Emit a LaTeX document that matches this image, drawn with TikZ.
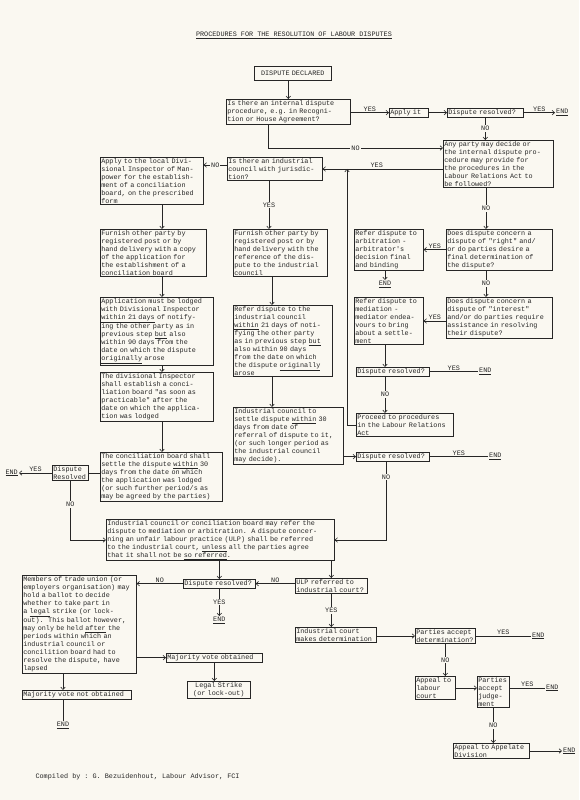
\documentclass[tikz,border=0pt]{standalone}
\usepackage{fontspec}
\usepackage{xcolor}
\usepackage{tikz}
\usetikzlibrary{arrows.meta, positioning, calc}

\newfontfamily\typewriter{Liberation Mono}
\newcommand{\flowfont}{\typewriter\fontsize{6.8}{8.0}\selectfont\frenchspacing\hyphenpenalty=10000\exhyphenpenalty=10000}
\definecolor{paper}{RGB}{250,248,241}
\definecolor{ink}{RGB}{38,38,38}

\begin{document}
\begin{tikzpicture}[
        x=1pt, y=-1pt,
        every node/.style={font=\flowfont, text=ink},
        box/.style={rectangle, draw=ink, line width=0.6pt, anchor=north west, align=left, inner xsep=1pt, inner ysep=1.2pt},
        arrow/.style={draw=ink, line width=0.6pt, -{Straight Barb[length=2.5pt, width=4.5pt]}},
        link/.style={draw=ink, line width=0.6pt},
        lbl/.style={inner sep=1pt},
        onl/.style={fill=paper, inner sep=1pt},
        endmark/.style={inner sep=1pt}
    ]
    \useasboundingbox[fill=paper] (0,0) rectangle (579,800);

    \node (title) at (294,35) {\underline{PROCEDURES FOR THE RESOLUTION OF LABOUR DISPUTES}};

    % top row
    \node[box, text width=75pt, align=center, minimum height=14pt] (declared) at (254,66) {DISPUTE DECLARED};
    \node[box, text width=122pt] (internal) at (226,99) {Is there an internal dispute\\procedure, e.g. in Recogni-\\tion or House Agreement?};
    \node[box, text width=37pt] (applyit) at (389,108) {Apply it};
    \node[box, text width=74pt] (resolvedA) at (447,108) {Dispute resolved?};
    \node[box, text width=108pt] (anyparty) at (443,140) {Any party may decide or\\the internal dispute pro-\\cedure may provide for\\the procedures in the\\Labour Relations Act to\\be followed?};

    % conciliation board column
    \node[box, text width=101pt] (applylocal) at (100,157) {Apply to the local Divi-\\sional Inspector of Man-\\power for the establish-\\ment of a conciliation\\board, on the prescribed\\form};
    \node[box, text width=104pt] (furnishA) at (100,229) {Furnish other party by\\registered post or by\\hand delivery with a copy\\of the application for\\the establishment of a\\conciliation board};
    \node[box, text width=111pt] (lodged) at (100,297) {Application must be lodged\\with Divisional Inspector\\\underline{within 21 days} of notify-\\ing the other party as in\\previous step \underline{but} also\\within 90 days from the\\date on which the dispute\\\underline{originally} arose};
    \node[box, text width=111pt] (inspector) at (100,372) {The divisional Inspector\\shall establish a conci-\\liation board "as soon as\\practicable" after the\\date on which the applica-\\tion was lodged};
    \node[box, text width=120pt] (conciliation) at (100,452) {The conciliation board shall\\settle the dispute \underline{within} 30\\days from the date on which\\the application was lodged\\(or such further period/s as\\may be agreed by the parties)};
    \node[box, text width=34pt] (leftresolved) at (52,465) {Dispute\\Resolved};

    % industrial council column
    \node[box, text width=93pt] (council) at (227,157) {Is there an industrial\\council with jurisdic-\\tion?};
    \node[box, text width=92pt] (furnishB) at (233,229) {Furnish other party by\\registered post or by\\hand delivery with the\\reference of the dis-\\pute to the industrial\\council};
    \node[box, text width=97pt] (referral) at (233,305) {Refer dispute to the\\industrial council\\\underline{within} 21 days of noti-\\fying the other party\\as in previous step \underline{but}\\also within 90 days\\from the date on which\\the dispute \underline{originally}\\arose};
    \node[box, text width=108pt] (settle) at (233,407) {Industrial council to\\settle dispute \underline{within} 30\\days from date of\\referral of dispute to it,\\(or such longer period as\\the industrial council\\may decide).};

    % internal procedure column
    \node[box, text width=104pt] (rights) at (446,229) {Does dispute concern a\\dispute of "right" and/\\or do parties desire a\\final determination of\\the dispute?};
    \node[box, text width=67pt] (arbitration) at (354,229) {Refer dispute to\\arbitration -\\arbitrator's\\decision final\\and binding};
    \node[box, text width=104pt] (interest) at (446,297) {Does dispute concern a\\dispute of "interest"\\and/or do parties require\\assistance in resolving\\their dispute?};
    \node[box, text width=67pt] (mediation) at (354,297) {Refer dispute to\\mediation -\\mediator endea-\\vours to bring\\about a settle-\\ment};
    \node[box, text width=71pt] (resolvedB) at (356,367) {Dispute resolved?};
    \node[box, text width=95pt] (proceed) at (356,413) {Proceed to procedures\\in the Labour Relations\\Act};
    \node[box, text width=71pt] (resolvedD) at (356,452) {Dispute resolved?};

    % lower part
    \node[box, text width=226pt] (boardrefer) at (106,519) {Industrial council or conciliation board may refer the\\dispute to mediation or arbitration.~~A dispute concer-\\ning an unfair labour practice (ULP) shall be referred\\to the industrial court, \underline{unless} all the parties agree\\that it shall not be \underline{so referred}.};
    \node[box, text width=70pt] (resolvedC) at (183,579) {Dispute resolved?};
    \node[box, text width=70pt] (ulp) at (295,578) {ULP referred to\\industrial court?};
    \node[box, text width=112pt] (members) at (22,575) {Members of trade union (or\\employers organisation) may\\hold a ballot to decide\\whether to take part in\\a \underline{legal} strike (or lock-\\out).~~This ballot however,\\may only be held \underline{after} the\\periods within which an\\industrial council or\\concilition board had to\\resolve the dispute, have\\lapsed};
    \node[box, text width=94pt] (majority) at (166,653) {Majority vote obtained};
    \node[box, text width=61pt, align=center] (legal) at (187,681) {Legal Strike\\(or lock-out)};
    \node[box, text width=107pt] (notobtained) at (22,690) {Majority vote not obtained};
    \node[box, text width=79pt] (courtdet) at (295,627) {Industrial court\\makes determination};
    \node[box, text width=58pt] (acceptdet) at (415,628) {Parties accept\\determination?};
    \node[box, text width=38pt] (labourcourt) at (415,676) {Appeal to\\labour\\court};
    \node[box, text width=30pt] (acceptjud) at (477,676) {Parties\\accept\\judge-\\ment};
    \node[box, text width=74pt] (appelate) at (453,743) {Appeal to Appelate\\Division};

    % end marks
    \node[endmark, anchor=west] (endApply) at (resolvedA.east -| 555,0) {\underline{END}};
    \node[endmark, anchor=north] (endArbitration) at (385,280) {\underline{END}};
    \node[endmark, anchor=west] (endMediation) at (resolvedB.east -| 478,0) {\underline{END}};
    \node[endmark, anchor=west] (endCouncil) at (resolvedD.east -| 488,0) {\underline{END}};
    \node[endmark, anchor=east] (endBoard) at (leftresolved.west -| 19,0) {\underline{END}};
    \node[endmark, anchor=north] (endReferral) at (resolvedC.south |- 0,616) {\underline{END}};
    \node[endmark, anchor=north] (endBallot) at (63,721) {\underline{END}};
    \node[endmark, anchor=west] (endDetermination) at (acceptdet.east -| 531,0) {\underline{END}};
    \node[endmark, anchor=west] (endJudgement) at (545,688) {\underline{END}};
    \node[endmark, anchor=west] (endAppeal) at (appelate.east -| 562,0) {\underline{END}};

    \node[anchor=west] (credit) at (32,777) {Compiled by : G. Bezuidenhout, Labour Advisor, FCI};

    % connectors, top
    \draw[arrow] (declared.south -| internal.north) -- (internal.north);
    \draw[arrow] (internal.east |- applyit.west) -- node[above, lbl] {YES} (applyit.west);
    \draw[arrow] (applyit.east) -- (resolvedA.west);
    \draw[arrow] (resolvedA.east) -- node[above, lbl] {YES} (endApply.west);
    \draw[arrow] (resolvedA.south) -- node[onl] {NO} (resolvedA.south |- anyparty.north);
    \draw[arrow] (internal.south -| 268,0) |- node[pos=0.75, onl] {NO} (anyparty.west |- 0,148);
    \draw[arrow] (anyparty.west |- council.east) -- node[above, lbl, pos=0.55] {YES} (council.east);
    \coordinate (joint) at (347,0 |- council.east);
    \draw[arrow] (proceed.west) -| (joint);
    \draw[arrow] (council.west |- 0,165) -- node[onl] {NO} (applylocal.east |- 0,165);

    % conciliation board chain
    \draw[arrow] (applylocal.south -| 162,0) -- (furnishA.north -| 162,0);
    \draw[arrow] (furnishA.south -| 162,0) -- (lodged.north -| 162,0);
    \draw[arrow] (lodged.south -| 162,0) -- (inspector.north -| 162,0);
    \draw[arrow] (inspector.south -| 162,0) -- (conciliation.north -| 162,0);
    \draw[link] (conciliation.west |- leftresolved.east) -- (leftresolved.east);
    \draw[arrow] (leftresolved.west) -- node[above, lbl] {YES} (endBoard.east);
    \draw[arrow] (leftresolved.south) |- node[pos=0.2, onl] {NO} (boardrefer.west);

    % industrial council chain
    \draw[arrow] (council.south -| 269,0) -- node[onl] {YES} (furnishB.north -| 269,0);
    \draw[arrow] (furnishB.south -| 272,0) -- (referral.north -| 272,0);
    \draw[arrow] (referral.south -| 272,0) -- (settle.north -| 272,0);
    \draw[arrow] (settle.east |- resolvedD.west) -- (resolvedD.west);
    \draw[link] (resolvedD.east) -- node[above, lbl] {YES} (endCouncil.west);
    \draw[arrow] (resolvedD.south -| 386,0) |- node[pos=0.1, onl] {NO} (boardrefer.east);

    % internal procedure chain
    \draw[arrow] (anyparty.south -| 486,0) -- node[onl] {NO} (rights.north -| 486,0);
    \draw[arrow] (rights.west |- arbitration.east) -- node[above, lbl] {YES} (arbitration.east);
    \draw[arrow] (arbitration.south -| 385,0) -- (endArbitration.north);
    \draw[arrow] (rights.south -| 486,0) -- node[onl] {NO} (interest.north -| 486,0);
    \draw[arrow] (interest.west |- mediation.east) -- node[above, lbl] {YES} (mediation.east);
    \draw[arrow] (mediation.south -| 385,0) -- (resolvedB.north -| 385,0);
    \draw[link] (resolvedB.east) -- node[above, lbl] {YES} (endMediation.west);
    \draw[arrow] (resolvedB.south -| 385,0) -- node[onl] {NO} (proceed.north -| 385,0);

    % lower part
    \draw[arrow] (boardrefer.south -| resolvedC.north) -- (resolvedC.north);
    \draw[arrow] (boardrefer.south -| ulp.north) -- (ulp.north);
    \draw[arrow] (ulp.west |- resolvedC.east) -- node[above, lbl] {NO} (resolvedC.east);
    \draw[arrow] (resolvedC.west) -- node[above, lbl] {NO} (members.east |- resolvedC.west);
    \draw[arrow] (resolvedC.south) -- node[onl] {YES} (endReferral.north);
    \draw[arrow] (members.east |- majority.west) -- (majority.west);
    \draw[arrow] (majority.south) -- (majority.south |- legal.north);
    \draw[arrow] (members.south -| 63,0) -- (notobtained.north -| 63,0);
    \draw[link] (notobtained.south -| 63,0) -- (endBallot.north);
    \draw[arrow] (ulp.south) -- node[onl] {YES} (ulp.south |- courtdet.north);
    \draw[arrow] (courtdet.east |- acceptdet.west) -- (acceptdet.west);
    \draw[link] (acceptdet.east) -- node[above, lbl] {YES} (endDetermination.west);
    \draw[arrow] (acceptdet.south) -- node[onl] {NO} (acceptdet.south |- labourcourt.north);
    \draw[arrow] (labourcourt.east |- 0,688) -- (acceptjud.west |- 0,688);
    \draw[link] (acceptjud.east |- 0,688) -- node[above, lbl] {YES} (endJudgement.west);
    \draw[arrow] (acceptjud.south) -- node[onl] {NO} (acceptjud.south |- appelate.north);
    \draw[arrow] (appelate.east) -- (endAppeal.west);
\end{tikzpicture}
\end{document}
